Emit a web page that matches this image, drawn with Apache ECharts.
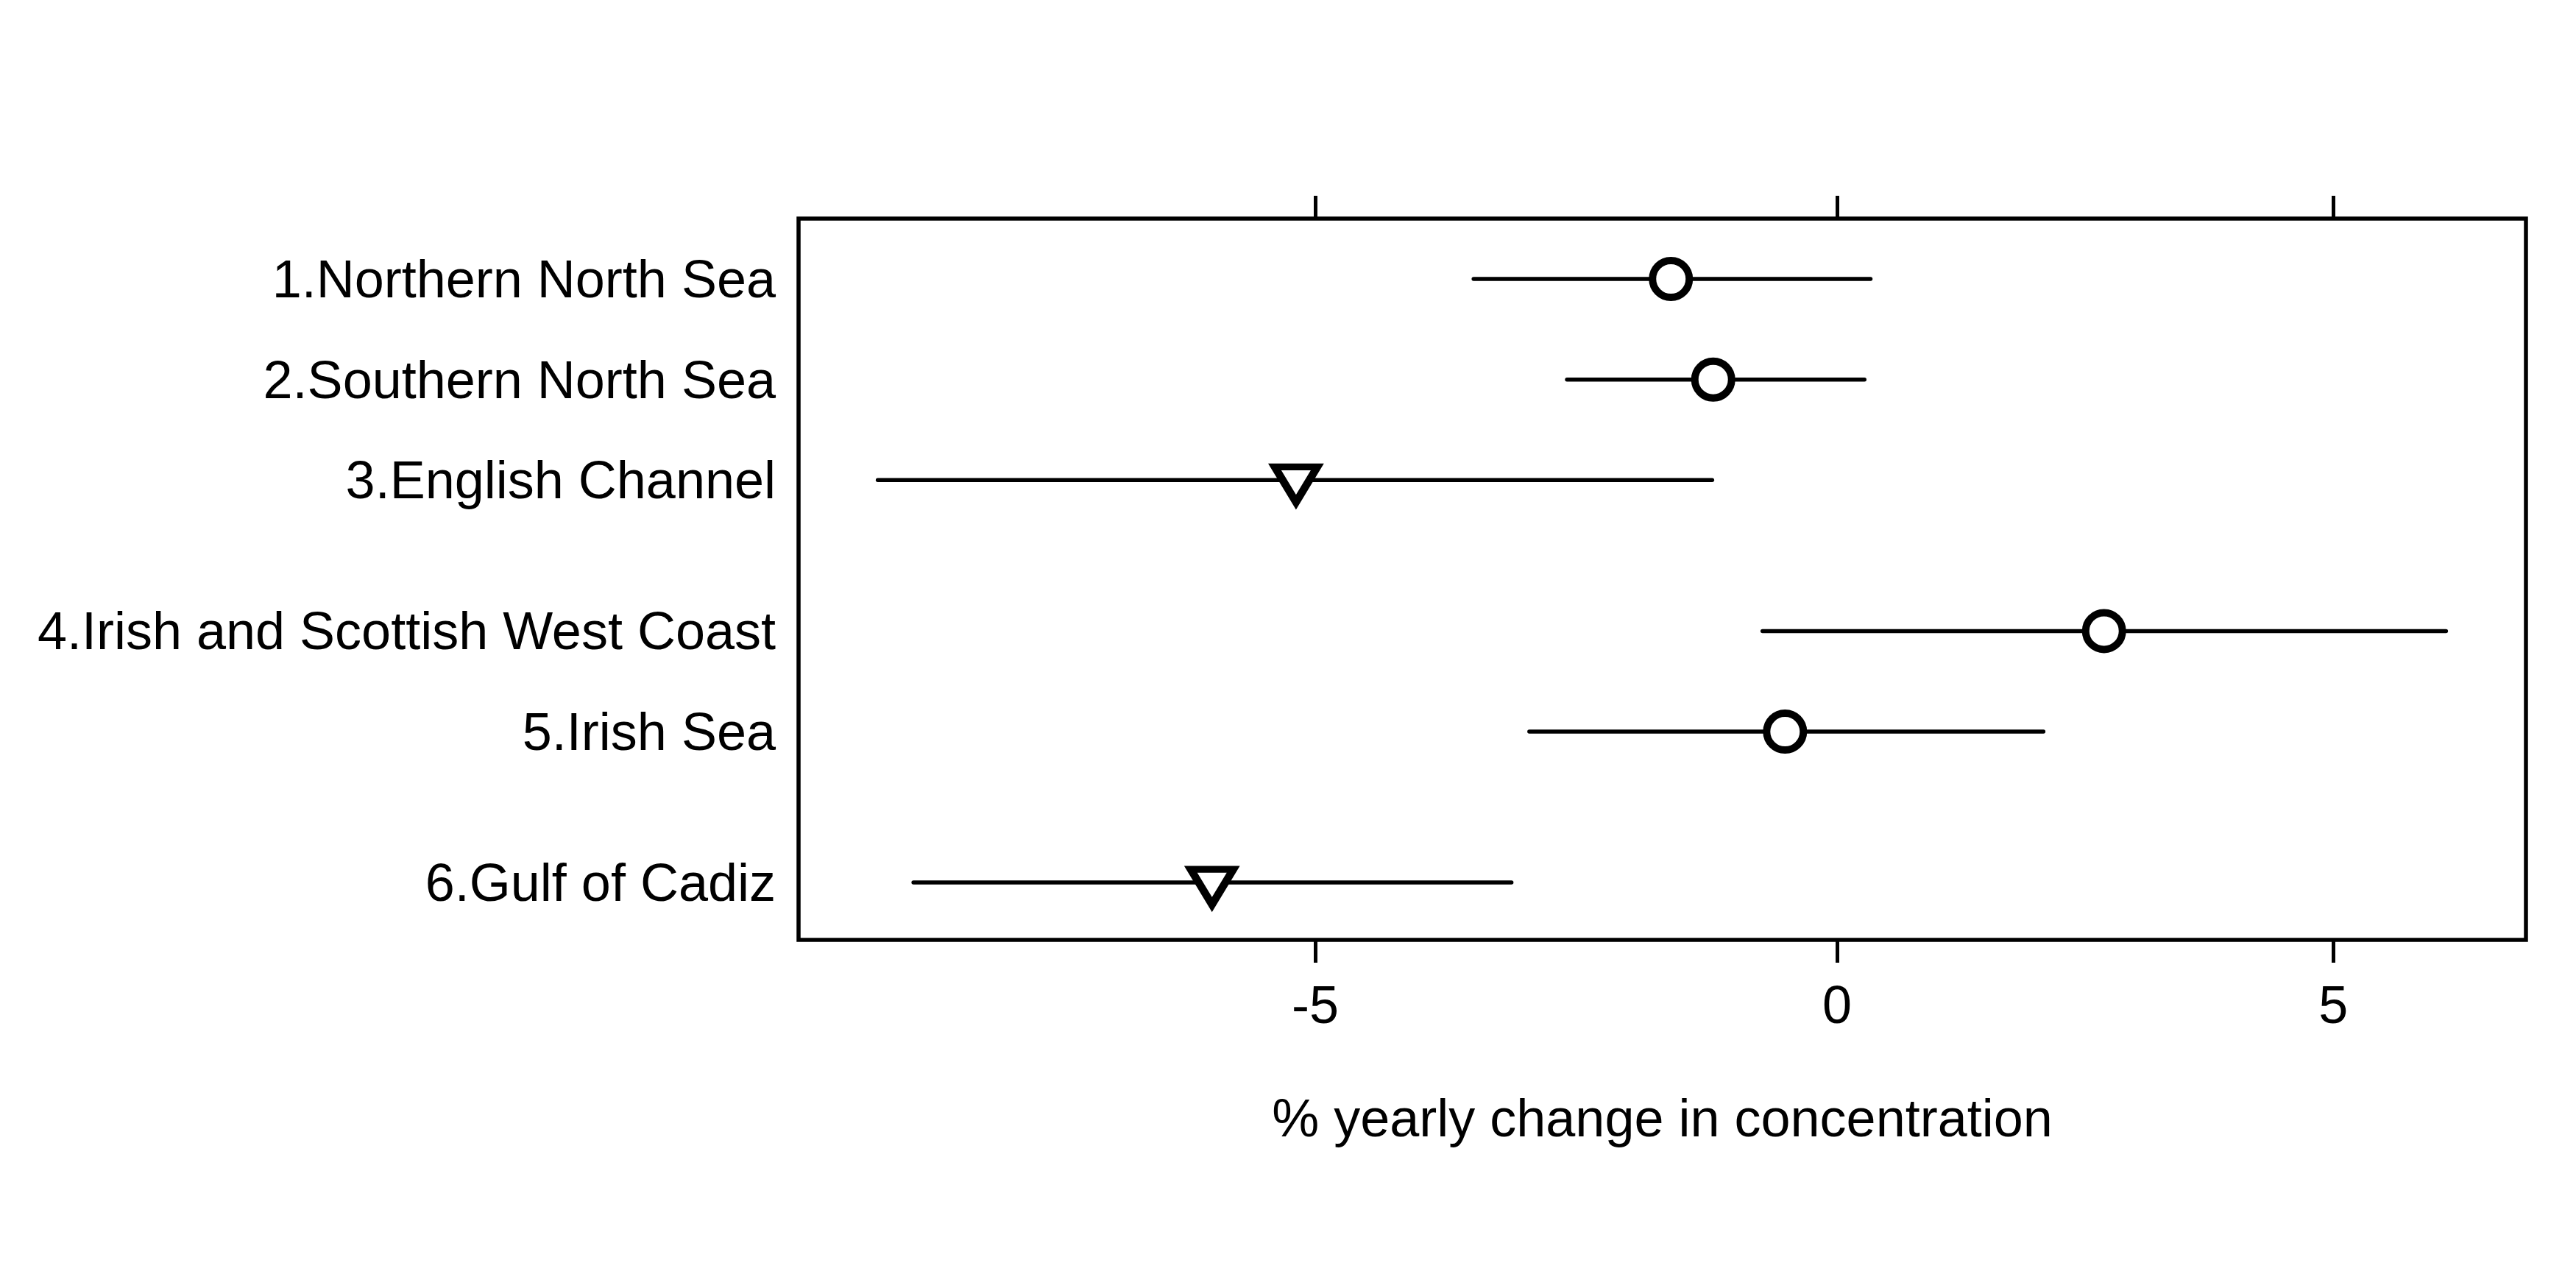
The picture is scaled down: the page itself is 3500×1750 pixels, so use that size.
<!DOCTYPE html>
<html>
<head>
<meta charset="utf-8">
<script src="https://cdn.jsdelivr.net/npm/echarts@6/dist/echarts.min.js"></script>
<style>
  html, body { margin: 0; padding: 0; background: #fff; }
  #chart { width: 3500px; height: 1750px; }
</style>
</head>
<body>
<div id="chart"></div>
<script>
// ---- data ----
const regionNumbers = ['1.', '2.', '3.', '4.', '5.', '6.'];
const regionNames = ['Northern North Sea', 'Southern North Sea', 'English Channel',
                     'Irish and Scottish West Coast', 'Irish Sea', 'Gulf of Cadiz'];
const rowPositions = [0, 1, 2, 3.5, 4.5, 6];          // grouped rows with gaps
const estimate = [-1.62, -1.21, -5.18, 2.66, -0.51, -5.96];   // % yearly change
const lower    = [-3.51, -2.62, -9.00, -0.73, -2.98, -8.68];
const upper    = [ 0.33,  0.27, -1.22,  6.17,  2.05, -3.15];
const markerShape = ['circle', 'circle', 'triangle', 'circle', 'circle', 'triangle'];
const xTickLabels = [-5, 0, 5];
const xLimits = [-9.706, 7.008];                      // % change at the box edges
const yLimits = [-0.6, 6.57];
const xAxisTitle = '% yearly change in concentration';

// axis is drawn on a log-ratio scale: t = 100 * ln(1 + p/100)
const toScale = p => 100 * Math.log(1 + p / 100);
const fromScale = t => (Math.exp(t / 100) - 1) * 100;

const FONT = '"Liberation Sans", Arial, Helvetica, sans-serif';
const tickPos = xTickLabels.map(toScale);

const barData = rowPositions.map((y, i) => [toScale(lower[i]), toScale(upper[i]), y]);
const pointData = rowPositions.map((y, i) => {
  const tri = markerShape[i] === 'triangle';
  return {
    value: [toScale(estimate[i]), y],
    symbol: tri ? 'path://M0,0L10,0L5,8.3Z' : 'circle',
    symbolSize: tri ? [58, 48] : 50,
    symbolOffset: tri ? [0, 6] : [0, 0]
  };
});

const chart = echarts.init(document.getElementById('chart'), null, { renderer: 'canvas' });
chart.setOption({
  animation: false,
  backgroundColor: '#ffffff',
  grid: {
    left: 1085, right: 68, top: 297, bottom: 473,
    show: true, borderColor: '#000', borderWidth: 5.5, backgroundColor: 'transparent'
  },
  xAxis: [
    {
      type: 'value', position: 'bottom',
      min: toScale(xLimits[0]), max: toScale(xLimits[1]),
      axisLine: { show: false, onZero: false },
      splitLine: { show: false },
      axisTick: { show: true, length: 31, customValues: tickPos,
                  lineStyle: { color: '#000', width: 5 } },
      axisLabel: { show: true, customValues: tickPos, margin: 57,
                   fontFamily: FONT, fontSize: 72, color: '#000',
                   formatter: v => String(Math.round(fromScale(v))) },
      name: xAxisTitle, nameLocation: 'middle', nameGap: 211,
      nameTextStyle: { fontFamily: FONT, fontSize: 72, color: '#000' }
    },
    {
      type: 'value', position: 'top',
      min: toScale(xLimits[0]), max: toScale(xLimits[1]),
      axisLine: { show: false, onZero: false },
      splitLine: { show: false },
      axisTick: { show: true, length: 31, customValues: tickPos,
                  lineStyle: { color: '#000', width: 5 } },
      axisLabel: { show: false }
    }
  ],
  yAxis: {
    type: 'value', inverse: true,
    min: yLimits[0], max: yLimits[1],
    axisLine: { show: false, onZero: false },
    axisTick: { show: false },
    splitLine: { show: false },
    axisLabel: {
      show: true, customValues: rowPositions, margin: 31,
      fontFamily: FONT, fontSize: 72, color: '#000',
      formatter: v => {
        const i = rowPositions.indexOf(v);
        return i >= 0 ? '{r|' + regionNumbers[i] + regionNames[i] + '}' : '';
      },
      rich: {
        r: { fontFamily: FONT, fontSize: 72, color: '#000', padding: [10, 0, 0, 0] }
      }
    }
  },
  series: [
    {
      type: 'custom',
      xAxisIndex: 0,
      data: barData,
      renderItem: (params, api) => {
        const y = api.value(2);
        const a = api.coord([api.value(0), y]);
        const b = api.coord([api.value(1), y]);
        return {
          type: 'line',
          shape: { x1: a[0], y1: a[1], x2: b[0], y2: b[1] },
          style: { stroke: '#000', lineWidth: 5.5, lineCap: 'round' }
        };
      },
      z: 2
    },
    {
      type: 'scatter',
      xAxisIndex: 0,
      data: pointData,
      itemStyle: { color: '#ffffff', borderColor: '#000', borderWidth: 10, opacity: 1 },
      z: 3
    }
  ]
});
</script>
</body>
</html>
